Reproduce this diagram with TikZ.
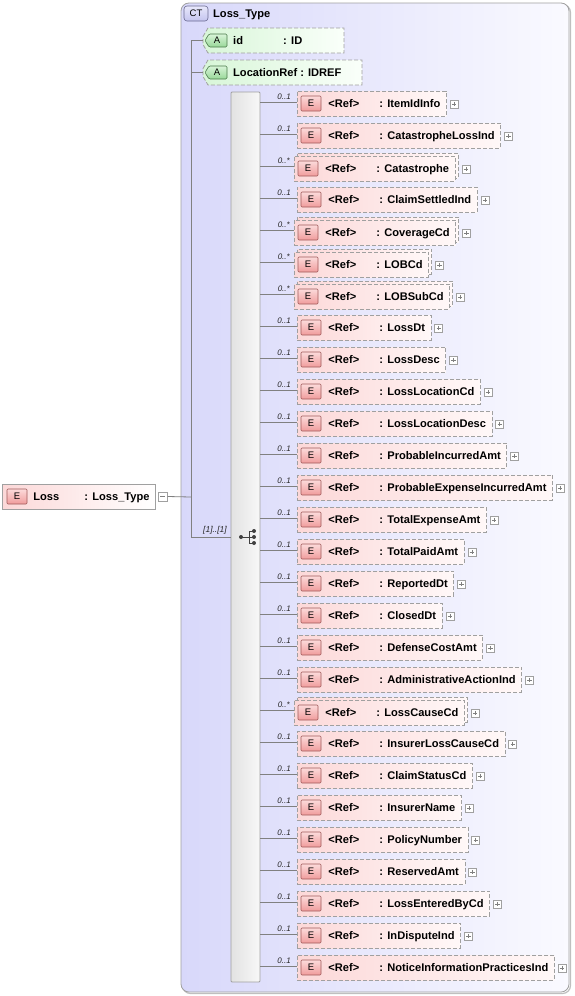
\documentclass[tikz,border=0pt]{standalone}
\usepackage{fontspec}
\setmainfont{Liberation Sans}
\definecolor{bordergray}{HTML}{A0A0A0}
\definecolor{linegray}{HTML}{808080}
\definecolor{ctleft}{HTML}{D8D8FA}
\definecolor{ctright}{HTML}{FAFAFF}
\definecolor{elleft}{HTML}{FCD8D8}
\definecolor{elright}{HTML}{FFF8F8}
\definecolor{atleft}{HTML}{D8F6D8}
\definecolor{atright}{HTML}{FAFFFA}
\definecolor{ebtop}{HTML}{FCDADA}
\definecolor{ebbot}{HTML}{F09C9C}
\definecolor{ebdraw}{HTML}{A05A5A}
\definecolor{abtop}{HTML}{D8F4D8}
\definecolor{abbot}{HTML}{98D898}
\definecolor{abdraw}{HTML}{4A7A4A}
\definecolor{cbtop}{HTML}{E8E8FC}
\definecolor{cbbot}{HTML}{C4C4EE}
\definecolor{cbdraw}{HTML}{6A6A90}
\definecolor{seqleft}{HTML}{E2E2E2}
\definecolor{seqright}{HTML}{F8F8F8}
\definecolor{icon}{HTML}{404040}
\begin{document}
\begin{tikzpicture}[x=1pt,y=-1pt,
  lbl/.style={font=\bfseries\fontsize{11.1}{12}\selectfont, text=black},
  elbox/.style={lbl, draw=bordergray, line width=0.8pt, dash pattern=on 4pt off 2pt,
    left color=elleft, right color=elright, minimum height=25pt, inner xsep=0pt,
    inner ysep=0pt, text height=8pt, text depth=0.2pt, anchor=west},
  lossbox/.style={lbl, draw=bordergray, line width=0.8pt,
    left color=elleft, right color=white, minimum height=25pt, inner xsep=0pt,
    inner ysep=0pt, text height=8pt, text depth=0.2pt, anchor=west},
  ebadge/.style={draw=ebdraw, line width=0.6pt, top color=ebtop, bottom color=ebbot,
    minimum width=20pt, minimum height=15pt, inner sep=0pt, rounded corners=1pt,
    font=\fontsize{9.5}{10}\selectfont},
  plusbox/.style={draw=bordergray, fill=white, line width=0.6pt, minimum size=8pt, inner sep=0pt,
    path picture={\draw[linegray, line width=0.6pt]
      ([xshift=1.8pt]path picture bounding box.west) -- ([xshift=-1.8pt]path picture bounding box.east)
      ([yshift=-1.8pt]path picture bounding box.north) -- ([yshift=1.8pt]path picture bounding box.south);}},
  minusbox/.style={draw=bordergray, fill=white, line width=0.6pt, minimum size=9pt, inner sep=0pt,
    path picture={\draw[linegray, line width=0.6pt]
      ([xshift=1.8pt]path picture bounding box.west) -- ([xshift=-1.8pt]path picture bounding box.east);}},
  conn/.style={draw=linegray, line width=0.8pt},
  card/.style={font=\itshape\fontsize{8}{9}\selectfont, inner sep=0pt, text=black!85},
  attrbox/.style={draw=bordergray, line width=0.8pt, dash pattern=on 4pt off 2pt,
    left color=atleft, right color=atright},
  abadge/.style={draw=abdraw, line width=0.6pt, top color=abtop, bottom color=abbot, rounded corners=1.2pt},
]
\useasboundingbox (0,0) rectangle (574,996);

% complex type box
\draw[draw=black!25, line width=1.2pt, rounded corners=8pt] (182.5,4.5) rectangle (570.5,993.5);
\draw[draw=bordergray, line width=0.8pt, rounded corners=8pt, left color=ctleft, right color=ctright]
  (181,3) rectangle (569,992);
\node[draw=cbdraw, line width=0.6pt, top color=cbtop, bottom color=cbbot, rounded corners=3pt,
  minimum width=24pt, minimum height=15pt, inner sep=0pt, font=\fontsize{9.5}{10}\selectfont] (ct) at (196,13.5) {CT};
\node[lbl, anchor=base west, inner sep=0pt] (cttitle) at (213,17.5) {Loss\_Type};

% root element Loss
\node[lossbox] (loss) at (2,496.5) {\hspace*{31pt}\makebox[51pt][l]{Loss}:\hspace{4.3pt}Loss\_Type\hspace*{6pt}};
\node[ebadge] (lossE) at (17,496.5) {E};
\node[minusbox, anchor=west] (lossminus) at ([xshift=2pt]loss.east) {};

% trunk lines
\coordinate (trunkTop) at (191,40);
\coordinate (trunkBot) at (191,537);
\coordinate (trunkLoss) at (191,497);
\draw[conn] (lossminus.east) -- (trunkLoss);
\draw[conn] (trunkTop) -- (trunkBot);

% attributes
\coordinate (idtip) at (203,40.5);
\coordinate (lrtip) at (203,72.5);
\path[attrbox] (203,36.5) -- (208,28) -- (344,28) -- (344,53) -- (208,53) -- (203,44.5) -- cycle;
\path[abadge] (205,40.5) -- (209,34) -- (227,34) -- (227,47) -- (209,47) -- cycle;
\node[font=\fontsize{9.5}{10}\selectfont, inner sep=0pt] (idA) at (217,40.5) {A};
\node[lbl, anchor=base west, inner sep=0pt] (idtxt) at (233,44.4) {\makebox[50pt][l]{id}:\hspace{4.3pt}ID};
\path[attrbox] (203,68.5) -- (208,60) -- (362,60) -- (362,85) -- (208,85) -- (203,76.5) -- cycle;
\path[abadge] (205,72.5) -- (209,66) -- (227,66) -- (227,79) -- (209,79) -- cycle;
\node[font=\fontsize{9.5}{10}\selectfont, inner sep=0pt] (lrA) at (217,72.5) {A};
\node[lbl, anchor=base west, inner sep=0pt] (lrtxt) at (233,76.4) {LocationRef :\hspace{4pt}IDREF};
\draw[conn] (191,40.5) -- (idtip);
\draw[conn] (191,72.5) -- (lrtip);

% sequence compositor
\draw[draw=bordergray, line width=0.8pt, left color=seqleft, right color=seqright, rounded corners=1pt]
  (231,92) rectangle (260,982);
\coordinate (seqin) at (231,537);
\draw[conn] (trunkBot) -- (seqin);
\node[card, anchor=east, font=\itshape\fontsize{8.5}{9}\selectfont] (seqcard) at (227,530) {[1]..[1]};
\begin{scope}[icon, line width=0.8pt]
  \fill (241,537) circle (2pt);
  \draw (241,537) -- (249,537);
  \draw (249,531) -- (249,543);
  \draw (249,531) -- (253,531) (249,537) -- (253,537) (249,543) -- (253,543);
  \fill (254,531) circle (2pt) (254,537) circle (2pt) (254,543) circle (2pt);
\end{scope}

% child elements
\foreach \nm/\cd [count=\i from 0] in {
  ItemIdInfo/1, CatastropheLossInd/1, Catastrophe/*, ClaimSettledInd/1, CoverageCd/*,
  LOBCd/*, LOBSubCd/*, LossDt/1, LossDesc/1, LossLocationCd/1, LossLocationDesc/1,
  ProbableIncurredAmt/1, ProbableExpenseIncurredAmt/1, TotalExpenseAmt/1, TotalPaidAmt/1,
  ReportedDt/1, ClosedDt/1, DefenseCostAmt/1, AdministrativeActionInd/1, LossCauseCd/*,
  InsurerLossCauseCd/1, ClaimStatusCd/1, InsurerName/1, PolicyNumber/1, ReservedAmt/1,
  LossEnteredByCd/1, InDisputeInd/1, NoticeInformationPracticesInd/1}
{
  \pgfmathsetmacro\yc{103+32*\i}
  \pgfmathsetmacro\yl{\yc-1}
  \if\cd*
    \pgfmathsetmacro\yb{\yc-1.5}
    \pgfmathsetmacro\yf{\yc+1.5}
    \node[elbox] (b\i) at (297,\yb) {\phantom{\hspace*{31pt}\makebox[51pt][l]{<Ref>}:\hspace{4.3pt}\nm\hspace*{6pt}}};
    \node[elbox] (e\i) at (294,\yf) {\hspace*{31pt}\makebox[51pt][l]{<Ref>}:\hspace{4.3pt}\nm\hspace*{6pt}};
    \node[ebadge] (eb\i) at (308,\yf) {E};
    \node[plusbox, anchor=west] (p\i) at ([xshift=6pt,yshift=-0.5pt]e\i.east) {};
    \node[card, anchor=south east] (c\i) at (290,\yc-3) {0..*};
  \else
    \pgfmathsetmacro\yf{\yc+0.5}
    \node[elbox] (e\i) at (297,\yf) {\hspace*{31pt}\makebox[51pt][l]{<Ref>}:\hspace{4.3pt}\nm\hspace*{6pt}};
    \node[ebadge] (eb\i) at (311,\yf) {E};
    \node[plusbox, anchor=west] (p\i) at ([xshift=3pt,yshift=-0.5pt]e\i.east) {};
    \node[card, anchor=south east] (c\i) at (291,\yc-3) {0..1};
  \fi
  \coordinate (s\i) at (260,\yl);
  \draw[conn] (s\i) -- (s\i -| e\i.west);
}
\end{tikzpicture}
\end{document}
